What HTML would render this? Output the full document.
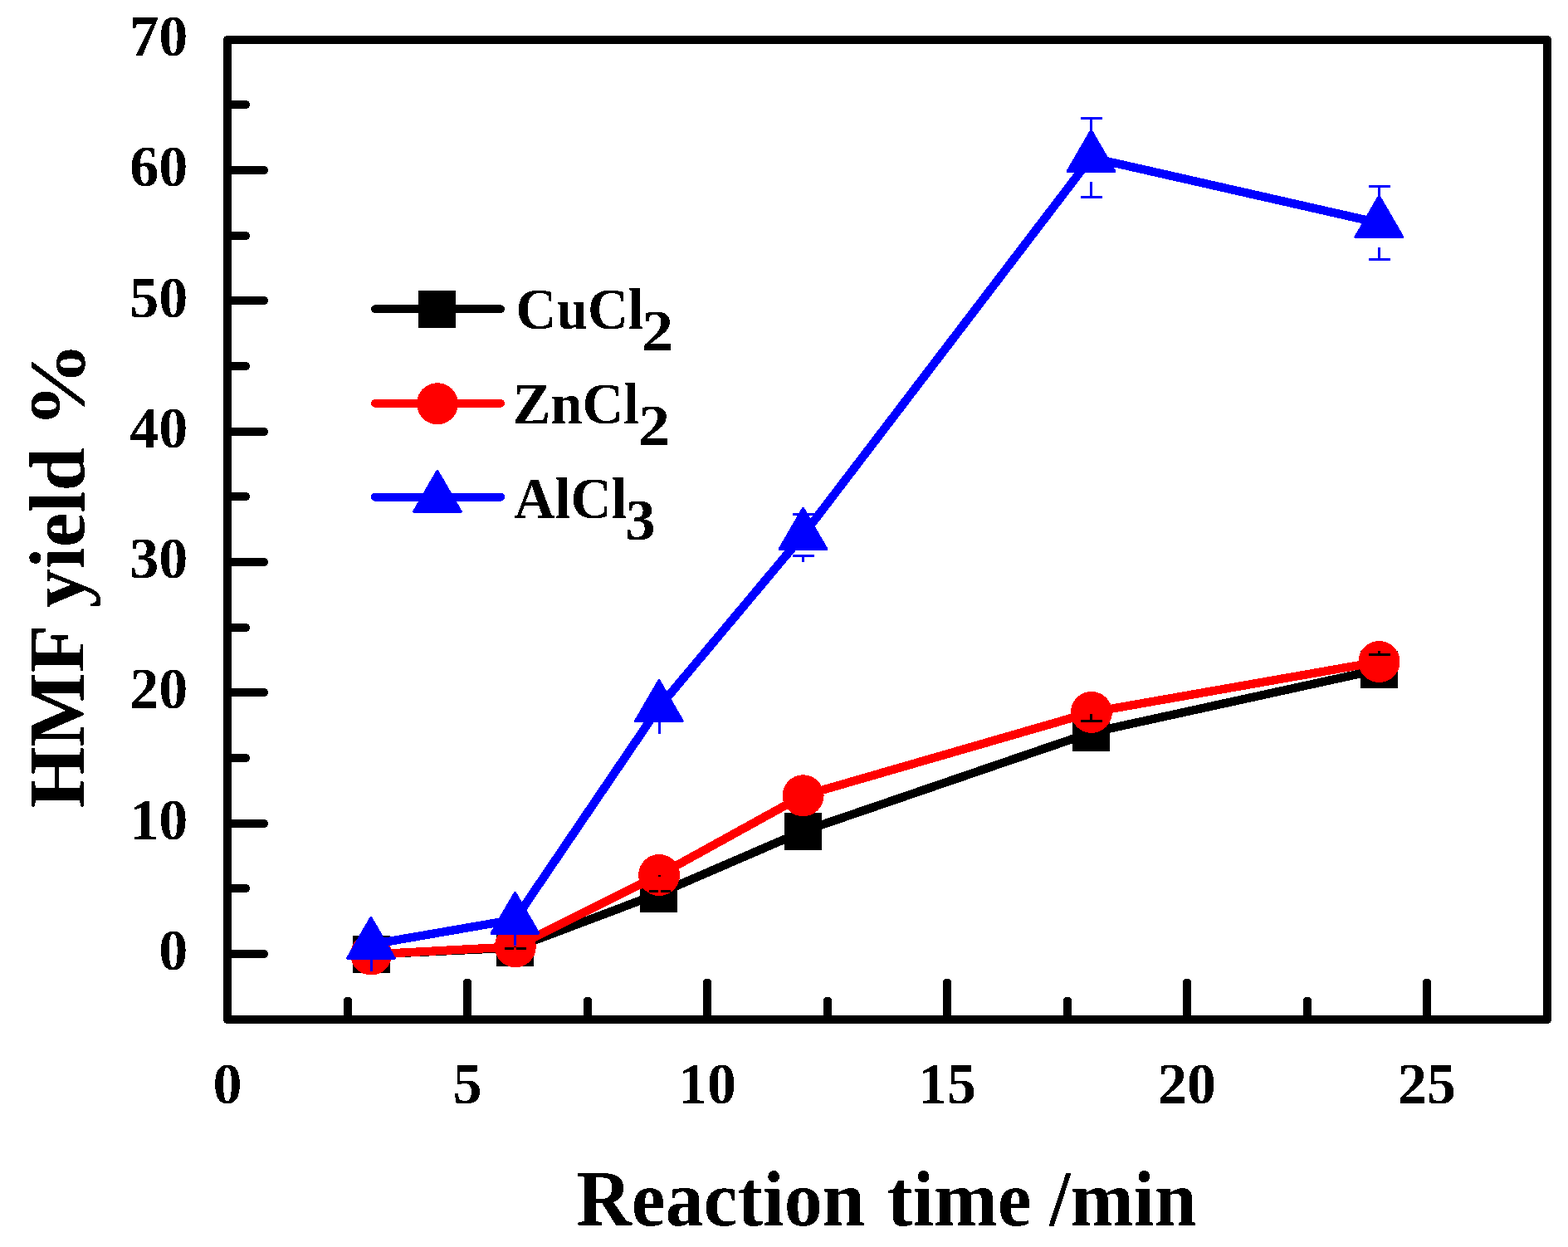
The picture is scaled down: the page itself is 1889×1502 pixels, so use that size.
<!DOCTYPE html>
<html lang="en"><head><meta charset="utf-8"><title>HMF yield vs reaction time</title>
<style>
html,body{margin:0;padding:0;background:#fff;}
body{width:1889px;height:1502px;overflow:hidden;}
svg{display:block;}
text{font-family:"Liberation Serif", "Times New Roman", Times, serif;font-weight:bold;fill:#000;filter:url(#bin);}
.tk{font-size:70px;}
.ti{font-size:95px;}
.lg{font-size:70px;}
</style></head><body>
<svg width="1889" height="1502" viewBox="0 0 1889 1502" shape-rendering="crispEdges">
<defs><filter id="bin" x="-20%" y="-20%" width="140%" height="140%" color-interpolation-filters="sRGB"><feComponentTransfer><feFuncA type="discrete" tableValues="0 1"/></feComponentTransfer></filter></defs>
<rect x="0" y="0" width="1889" height="1502" fill="#fff"/>
<g stroke="#000" stroke-width="10" stroke-linecap="round" fill="none">
<line x1="276.0" y1="1149.0" x2="318.0" y2="1149.0"/>
<line x1="276.0" y1="1070.0" x2="296.0" y2="1070.0"/>
<line x1="276.0" y1="992.0" x2="318.0" y2="992.0"/>
<line x1="276.0" y1="913.0" x2="296.0" y2="913.0"/>
<line x1="276.0" y1="834.0" x2="318.0" y2="834.0"/>
<line x1="276.0" y1="756.0" x2="296.0" y2="756.0"/>
<line x1="276.0" y1="677.0" x2="318.0" y2="677.0"/>
<line x1="276.0" y1="598.0" x2="296.0" y2="598.0"/>
<line x1="276.0" y1="520.0" x2="318.0" y2="520.0"/>
<line x1="276.0" y1="441.0" x2="296.0" y2="441.0"/>
<line x1="276.0" y1="362.0" x2="318.0" y2="362.0"/>
<line x1="276.0" y1="284.0" x2="296.0" y2="284.0"/>
<line x1="276.0" y1="205.0" x2="318.0" y2="205.0"/>
<line x1="276.0" y1="126.0" x2="296.0" y2="126.0"/>
<line x1="419.0" y1="1226.0" x2="419.0" y2="1205.5"/>
<line x1="563.0" y1="1226.0" x2="563.0" y2="1183.5"/>
<line x1="708.0" y1="1226.0" x2="708.0" y2="1205.5"/>
<line x1="852.0" y1="1226.0" x2="852.0" y2="1183.5"/>
<line x1="997.0" y1="1226.0" x2="997.0" y2="1205.5"/>
<line x1="1141.0" y1="1226.0" x2="1141.0" y2="1183.5"/>
<line x1="1286.0" y1="1226.0" x2="1286.0" y2="1205.5"/>
<line x1="1430.0" y1="1226.0" x2="1430.0" y2="1183.5"/>
<line x1="1575.0" y1="1226.0" x2="1575.0" y2="1205.5"/>
<line x1="1719.0" y1="1226.0" x2="1719.0" y2="1183.5"/>
</g>
<rect x="274.0" y="48.0" width="1590.0" height="1180.0" fill="none" stroke="#000" stroke-width="10.0" stroke-linejoin="round"/>
<g fill="none" stroke-width="10.3" stroke-linejoin="round" stroke-linecap="round">
<polyline stroke="#000" points="447.0,1149.6 620.6,1141.5 794.0,1076.1 967.5,1001.2 1314.4,882.4 1661.5,806.4"/>
</g>
<rect x="425" y="1127" width="45" height="45" fill="#000"/>
<rect x="598" y="1119" width="45" height="45" fill="#000"/>
<rect x="771" y="1054" width="45" height="45" fill="#000"/>
<rect x="945" y="979" width="45" height="45" fill="#000"/>
<rect x="1292" y="860" width="45" height="45" fill="#000"/>
<rect x="1639" y="784" width="45" height="45" fill="#000"/>
<polyline fill="none" stroke="#f00" stroke-width="10.3" stroke-linejoin="round" stroke-linecap="round" points="447.1,1149.5 620.8,1140.3 794.1,1054.0 967.6,958.3 1314.9,857.9 1661.5,797.0"/>
<circle cx="447.1" cy="1149.5" r="25" fill="#f00"/>
<circle cx="620.8" cy="1140.3" r="25" fill="#f00"/>
<circle cx="794.1" cy="1054.0" r="25" fill="#f00"/>
<circle cx="967.6" cy="958.3" r="25" fill="#f00"/>
<circle cx="1314.9" cy="857.9" r="25" fill="#f00"/>
<circle cx="1661.5" cy="797.0" r="25" fill="#f00"/>
<g stroke="#000" stroke-width="3" fill="none">
<line x1="607.5" y1="1142.5" x2="633.5" y2="1142.5"/>
<line x1="620.5" y1="1142.5" x2="620.5" y2="1119.0"/>
<line x1="781.5" y1="1073.5" x2="807.5" y2="1073.5"/>
<line x1="794.5" y1="1073.5" x2="794.5" y2="1053.6"/>
<line x1="1301.5" y1="868.5" x2="1327.5" y2="868.5"/>
<line x1="1314.5" y1="868.5" x2="1314.5" y2="859.9"/>
<line x1="1648.5" y1="788.5" x2="1674.5" y2="788.5"/>
<line x1="1661.5" y1="788.5" x2="1661.5" y2="783.9"/>
</g>
<g stroke="#f00" stroke-width="3" fill="none">
<line x1="447.5" y1="1149.0" x2="447.5" y2="1125.0"/>
<line x1="447.5" y1="1150.0" x2="447.5" y2="1174.0"/>
<line x1="620.5" y1="1139.8" x2="620.5" y2="1115.8"/>
<line x1="620.5" y1="1140.8" x2="620.5" y2="1164.8"/>
<line x1="794.5" y1="1052.4" x2="794.5" y2="1029.5"/>
<line x1="794.5" y1="1055.6" x2="794.5" y2="1078.5"/>
<line x1="967.5" y1="948.3" x2="967.5" y2="933.8"/>
<line x1="967.5" y1="968.3" x2="967.5" y2="982.8"/>
<line x1="1314.5" y1="844.4" x2="1314.5" y2="833.4"/>
<line x1="1314.5" y1="871.4" x2="1314.5" y2="882.4"/>
<line x1="1661.5" y1="782.0" x2="1661.5" y2="772.5"/>
<line x1="1661.5" y1="812.0" x2="1661.5" y2="821.5"/>
</g>
<polyline fill="none" stroke="#00f" stroke-width="10.3" stroke-linejoin="round" stroke-linecap="round" points="446.9,1137.6 620.5,1107.5 793.9,851.9 967.5,644.6 1314.5,189.9 1661.4,268.6"/>
<polygon points="446.9,1105.3 418.5,1154.3 475.3,1154.3" fill="#00f" stroke="#00f" stroke-width="3" stroke-linejoin="round"/>
<polygon points="620.5,1075.2 592.1,1124.2 648.9,1124.2" fill="#00f" stroke="#00f" stroke-width="3" stroke-linejoin="round"/>
<polygon points="793.9,819.5 765.5,868.5 822.3,868.5" fill="#00f" stroke="#00f" stroke-width="3" stroke-linejoin="round"/>
<polygon points="967.5,612.3 939.1,661.3 995.9,661.3" fill="#00f" stroke="#00f" stroke-width="3" stroke-linejoin="round"/>
<polygon points="1314.5,157.3 1286.1,206.3 1342.9,206.3" fill="#00f" stroke="#00f" stroke-width="3" stroke-linejoin="round"/>
<polygon points="1661.4,236.3 1633.0,285.3 1689.8,285.3" fill="#00f" stroke="#00f" stroke-width="3" stroke-linejoin="round"/>
<g stroke="#00f" stroke-width="3" fill="none">
<line x1="447.5" y1="1137.6" x2="447.5" y2="1169.6"/>
<line x1="620.5" y1="1107.5" x2="620.5" y2="1139.4"/>
<line x1="794.5" y1="851.9" x2="794.5" y2="884.1"/>
<line x1="954.5" y1="619.5" x2="980.5" y2="619.5"/>
<line x1="954.5" y1="669.5" x2="980.5" y2="669.5"/>
<line x1="967.5" y1="612.5" x2="967.5" y2="619.5"/>
<line x1="967.5" y1="669.5" x2="967.5" y2="676.6"/>
<line x1="1301.5" y1="142.5" x2="1327.5" y2="142.5"/>
<line x1="1301.5" y1="237.5" x2="1327.5" y2="237.5"/>
<line x1="1314.5" y1="142.5" x2="1314.5" y2="165.0"/>
<line x1="1314.5" y1="219.1" x2="1314.5" y2="237.5"/>
<line x1="1648.5" y1="224.5" x2="1674.5" y2="224.5"/>
<line x1="1648.5" y1="312.5" x2="1674.5" y2="312.5"/>
<line x1="1661.5" y1="224.5" x2="1661.5" y2="245.0"/>
<line x1="1661.5" y1="298.4" x2="1661.5" y2="312.5"/>
</g>
<line x1="451.8" y1="372.2" x2="603.2" y2="372.2" stroke="#000" stroke-width="9.8" stroke-linecap="round"/>
<rect x="504" y="350" width="45" height="45" fill="#000"/>
<line x1="451.8" y1="485.8" x2="603.2" y2="485.8" stroke="#f00" stroke-width="9.8" stroke-linecap="round"/>
<circle cx="527" cy="486.2" r="25" fill="#f00"/>
<line x1="451.8" y1="598.7" x2="603.2" y2="598.7" stroke="#00f" stroke-width="9.8" stroke-linecap="round"/>
<polygon points="526.9,567.3 498.5,616.3 555.3,616.3" fill="#00f" stroke="#00f" stroke-width="3" stroke-linejoin="round"/>
<text class="tk" x="226.2" y="1168.0" text-anchor="end">0</text>
<text class="tk" x="226.2" y="1010.7" text-anchor="end">10</text>
<text class="tk" x="226.2" y="853.4" text-anchor="end">20</text>
<text class="tk" x="226.2" y="696.1" text-anchor="end">30</text>
<text class="tk" x="226.2" y="538.8" text-anchor="end">40</text>
<text class="tk" x="226.2" y="381.5" text-anchor="end">50</text>
<text class="tk" x="226.2" y="224.2" text-anchor="end">60</text>
<text class="tk" x="226.2" y="66.9" text-anchor="end">70</text>
<text class="tk" x="274.0" y="1329.0" text-anchor="middle">0</text>
<text class="tk" x="563.0" y="1329.0" text-anchor="middle">5</text>
<text class="tk" x="852.0" y="1329.0" text-anchor="middle">10</text>
<text class="tk" x="1141.0" y="1329.0" text-anchor="middle">15</text>
<text class="tk" x="1430.0" y="1329.0" text-anchor="middle">20</text>
<text class="tk" x="1719.0" y="1329.0" text-anchor="middle">25</text>
<text class="ti"><tspan x="694.30" y="1475.60" textLength="347.59" lengthAdjust="spacingAndGlyphs">Reaction</tspan> <tspan x="1068.70" y="1475.60" textLength="174.00" lengthAdjust="spacingAndGlyphs">time</tspan> <tspan x="1264.30" y="1475.60" textLength="177.36" lengthAdjust="spacingAndGlyphs">/min</tspan></text>
<text class="ti" transform="translate(101.30,973.30) rotate(-90)"><tspan x="0.00" y="0" textLength="217.40" lengthAdjust="spacingAndGlyphs">HMF</tspan> <tspan x="241.00" y="0" textLength="192.95" lengthAdjust="spacingAndGlyphs">yield</tspan> <tspan x="457.70" y="0" textLength="103.78" lengthAdjust="spacingAndGlyphs">%</tspan></text>
<text class="lg"><tspan x="621.60" y="395.90" textLength="153.93" lengthAdjust="spacingAndGlyphs">CuCl</tspan><tspan x="773.30" y="422.00" textLength="37.83" lengthAdjust="spacingAndGlyphs">2</tspan></text>
<text class="lg"><tspan x="617.70" y="509.80" textLength="152.29" lengthAdjust="spacingAndGlyphs">ZnCl</tspan><tspan x="768.70" y="535.60" textLength="38.29" lengthAdjust="spacingAndGlyphs">2</tspan></text>
<text class="lg"><tspan x="619.30" y="623.50" textLength="136.17" lengthAdjust="spacingAndGlyphs">AlCl</tspan><tspan x="753.30" y="650.30" textLength="36.49" lengthAdjust="spacingAndGlyphs">3</tspan></text>
</svg>
</body></html>
